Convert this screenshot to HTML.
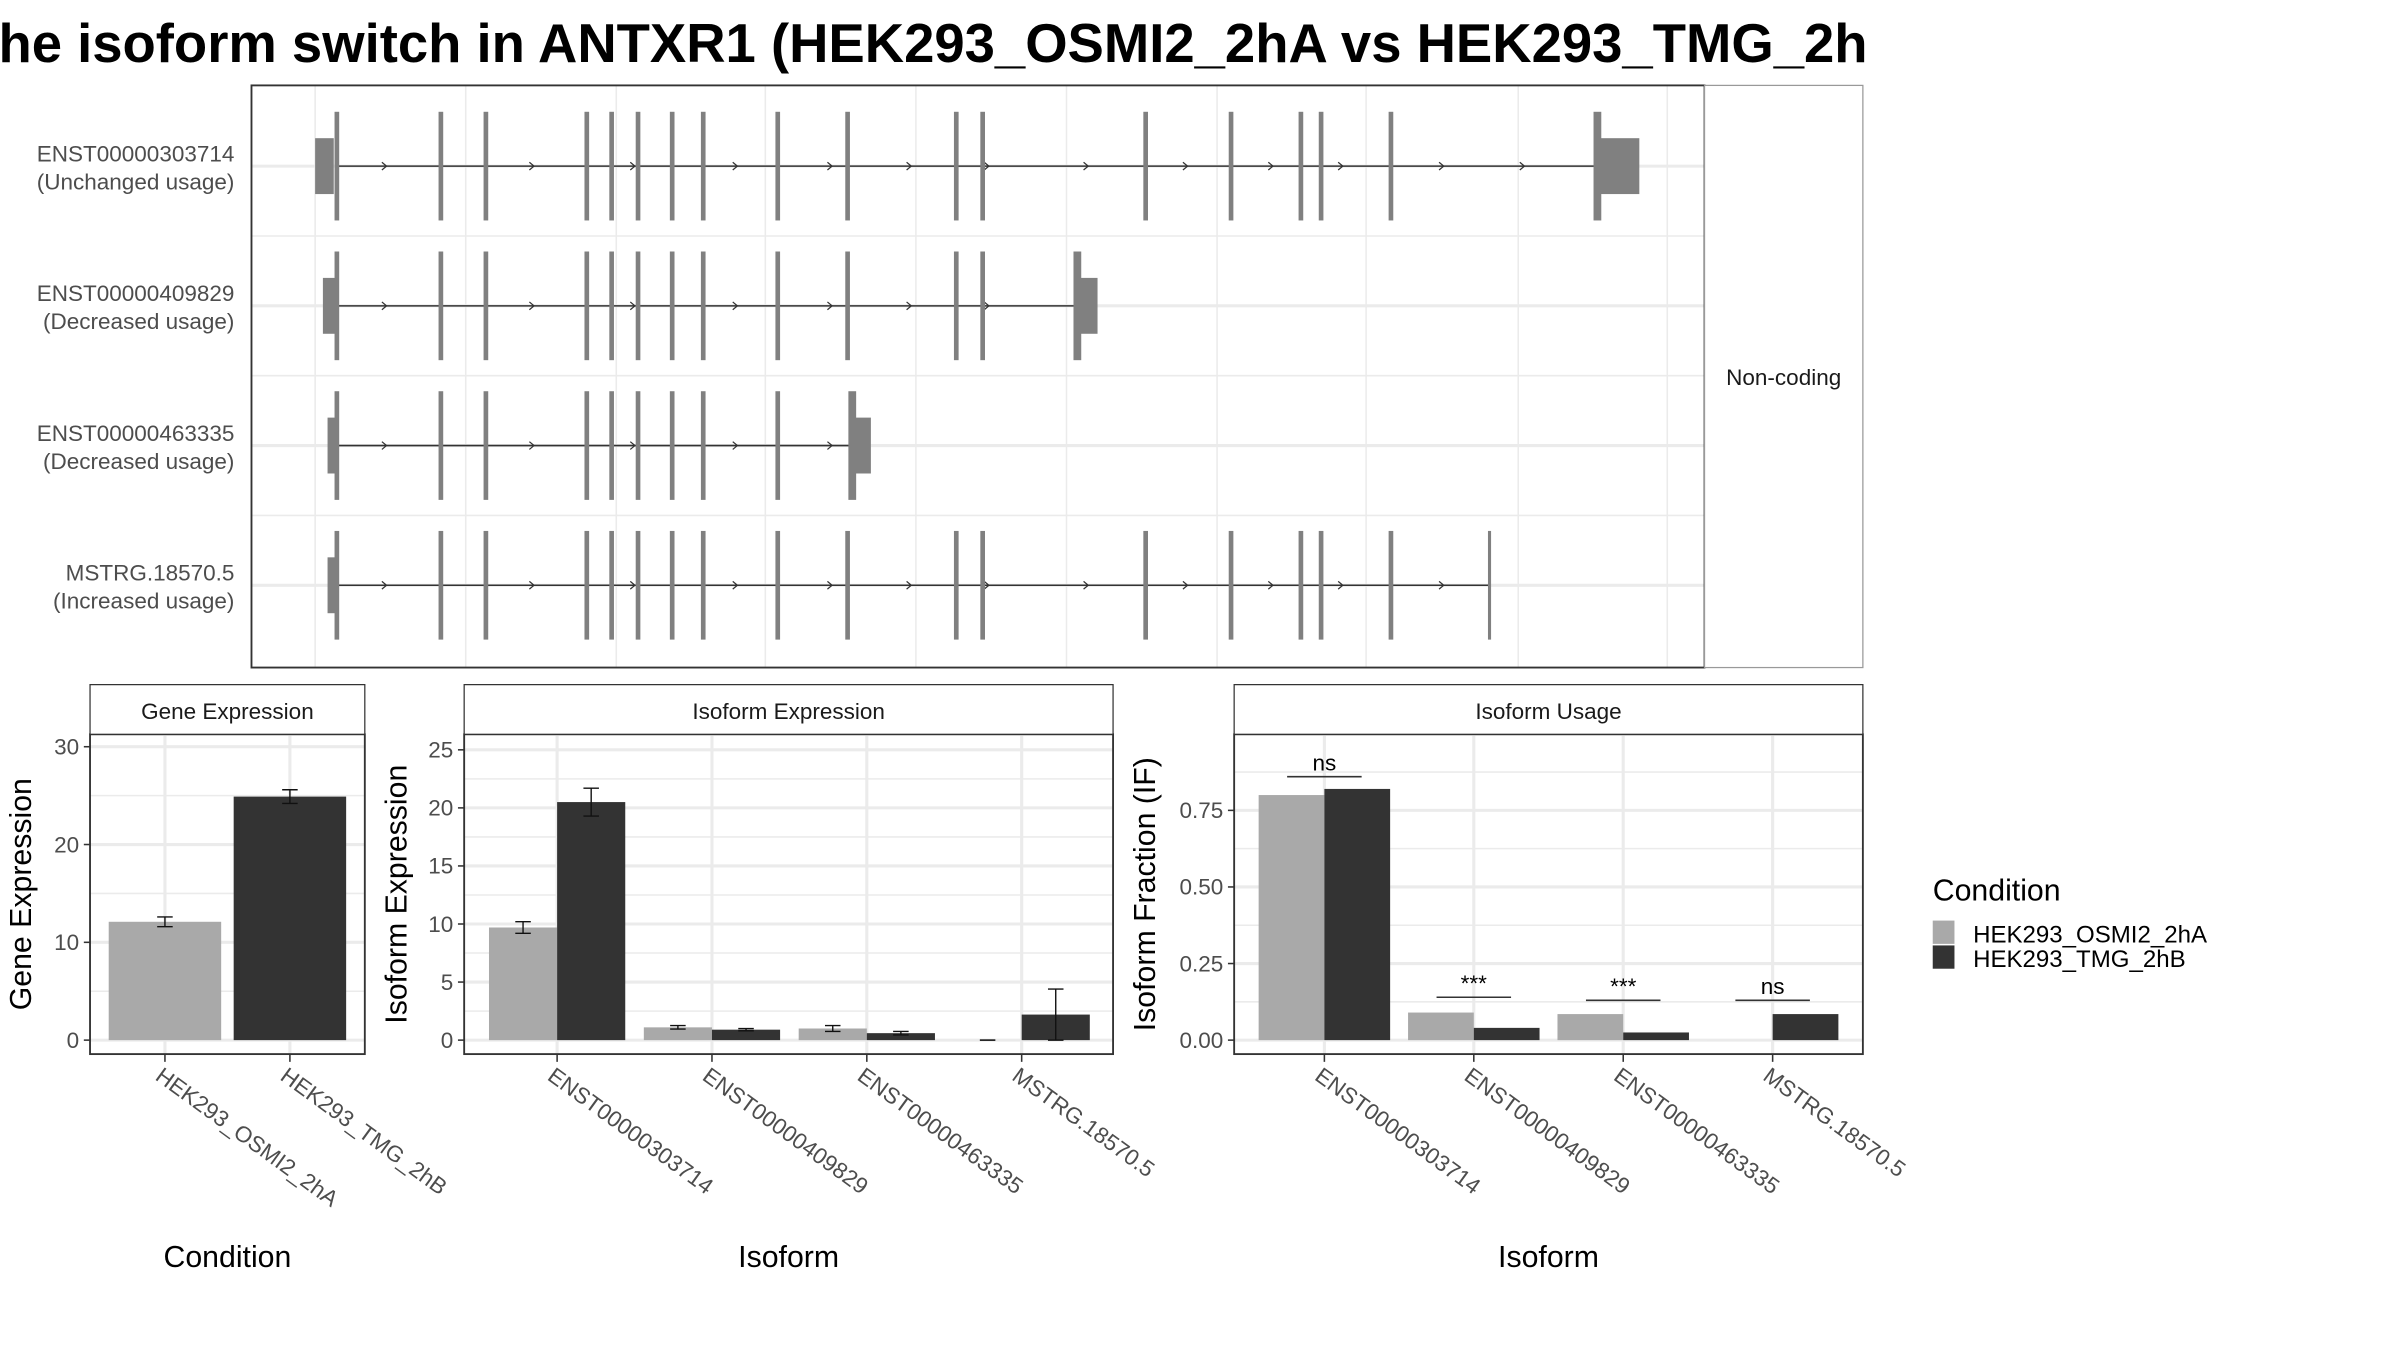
<!DOCTYPE html>
<html><head><meta charset="utf-8"><style>
html,body{margin:0;padding:0;background:#fff;}
svg{display:block;font-family:"Liberation Sans",sans-serif;}
</style></head><body>
<svg id="chart" width="2400" height="1350" viewBox="0 0 1546 869.6" xmlns="http://www.w3.org/2000/svg">
<text x="-1" y="40" font-size="35" font-weight="bold" fill="#000" textLength="1204" lengthAdjust="spacingAndGlyphs">he isoform switch in ANTXR1 (HEK293_OSMI2_2hA vs HEK293_TMG_2h</text>
<g id="topG"></g>
<g id="bottomG"></g>
<g>
<text x="1245" y="580" font-size="19.5" fill="#000">Condition</text>
<rect x="1245" y="593" width="14" height="15" fill="#a9a9a9"/>
<rect x="1245" y="609" width="14" height="15" fill="#333333"/>
<text x="1271" y="607" font-size="15.5" fill="#000">HEK293_OSMI2_2hA</text>
<text x="1271" y="623" font-size="15.5" fill="#000">HEK293_TMG_2hB</text>
</g>
</svg>
<script>
const NS="http://www.w3.org/2000/svg";
function mk(parent,tag,attrs,text){const e=document.createElementNS(NS,tag);for(const k in attrs)e.setAttribute(k,attrs[k]);if(text!==undefined)e.textContent=text;parent.appendChild(e);return e;}

// ---------- transcript structure data (displayed coordinate units) ----------
const txNames=["ENST00000303714","ENST00000409829","ENST00000463335","MSTRG.18570.5"];
const txUsage=["(Unchanged usage)","(Decreased usage)","(Decreased usage)","(Increased usage)"];
const sharedExons=[217,284,313,378,394,411,433,453,501,546,616,633,738,793,838,851,896];
const txExonCount=[17,12,9,17];
const txLastExon=[1028,693,548,960];
const txStartUTR=[[203,215],[208,216],[211,216],[211,216]];
const txEndUTR=[[1031,1056],[695,707],[551,561],[0,0]];
const arrowPos=[249,344,409,475,536,587,637,701,765,820,865,930,982];

const topG=document.getElementById('topG');
const px0=162,px1=1098,py0=55,py1=430;
const vgrid=[203,300,397,493,590,687,784,880,978,1074];
const rowY=[107,197,287,377];
vgrid.forEach(x=>{const l=mk(topG,'line',{x1:x,x2:x,y1:py0,y2:py1,stroke:'#ebebeb','stroke-width':1});

});
[152,242,332].forEach(y=>{const l=mk(topG,'line',{x1:px0,x2:px1,y1:y,y2:y,stroke:'#ebebeb','stroke-width':1});

});
rowY.forEach(y=>{const l=mk(topG,'line',{x1:px0,x2:px1,y1:y,y2:y,stroke:'#ebebeb','stroke-width':2});

});
txNames.forEach((n,i)=>{
  const cy=rowY[i];
  const g=mk(topG,'g',{});
  
  
  const end=txLastExon[i];
  const intr=mk(g,'line',{x1:217,x2:end,y1:cy,y2:cy,stroke:'#333','stroke-width':1});
  
  
  arrowPos.filter(a=>a<end-5).forEach(a=>{const p=mk(g,'path',{d:`M${a-3},${cy-2.5}L${a},${cy}L${a-3},${cy+2.5}`,fill:'none',stroke:'#333','stroke-width':0.8});
  
  });
  const su=txStartUTR[i];
  const r=mk(g,'rect',{x:su[0],y:cy-18,width:su[1]-su[0],height:36,fill:'#808080'});
  
  
  sharedExons.slice(0,txExonCount[i]).forEach(x=>{const e=mk(g,'rect',{x:x-1.5,y:cy-35,width:3,height:70,fill:'#808080'});
  
  });
  const le=mk(g,'rect',{x:end-1.5,y:cy-35,width:i==3?2:5,height:70,fill:'#808080'});
  
  
  const eu=txEndUTR[i];
  if(eu[1]>eu[0]){const u=mk(g,'rect',{x:eu[0],y:cy-18,width:eu[1]-eu[0],height:36,fill:'#808080'});
  
  }
  const t1=mk(topG,'text',{x:151,y:cy-3,'font-size':14.5,fill:'#4d4d4d','text-anchor':'end'},n);
  
  
  const t2=mk(topG,'text',{x:151,y:cy+15,'font-size':14.5,fill:'#4d4d4d','text-anchor':'end'},txUsage[i]);
  
  
});
const pb=mk(topG,'rect',{x:px0,y:py0,width:px1-px0,height:py1-py0,fill:'none',stroke:'#333','stroke-width':1.2});


const sb=mk(topG,'rect',{x:px1,y:py0,width:102,height:py1-py0,fill:'#fff',stroke:'#999','stroke-width':0.8});


const st=mk(topG,'text',{x:1149,y:248,'font-size':14.5,fill:'#1a1a1a','text-anchor':'middle'},'Non-coding');



// ---------- bar chart data ----------
const geneCats=["HEK293_OSMI2_2hA","HEK293_TMG_2hB"];
const geneVals=[12.1,24.9];
const geneErr=[0.5,0.7];
const geneTicks=[0,10,20,30];

const isoCats=["ENST00000303714","ENST00000409829","ENST00000463335","MSTRG.18570.5"];
const isoExpA=[9.7,1.1,1.0,0];
const isoExpB=[20.5,0.9,0.6,2.2];
const isoErrA=[0.5,0.15,0.25,0];
const isoErrB=[1.2,0.1,0.15,2.2];
const isoExpTicks=[0,5,10,15,20,25];

const usageA=[0.80,0.09,0.085,0];
const usageB=[0.82,0.04,0.025,0.085];
const usageTicks=[0,0.25,0.50,0.75];
const usageTickLabels=["0.00","0.25","0.50","0.75"];
const sigLabels=["ns","***","***","ns"];
const sigHeights=[0.86,0.14,0.13,0.13];

const bottomG=document.getElementById('bottomG');
const COLA='#a9a9a9',COLB='#333333';
function panel(o){
  const g=mk(bottomG,'g',{});
  
  
  const y=v=>o.y0-(v-o.vmin)*(o.y0-o.y1)/(o.vmax-o.vmin);
  const n=o.cats.length, step=(o.x1-o.x0)/n;
  const cx=i=>o.x0+step*(i+0.5);
  for(let k=0;k<o.ticks.length-1;k++){const v=(o.ticks[k]+o.ticks[k+1])/2;
    const l=mk(g,'line',{x1:o.left,x2:o.right,y1:y(v),y2:y(v),stroke:'#ebebeb','stroke-width':1});
    
    }
  if(o.extraMinor){const v=o.ticks[o.ticks.length-1]+(o.ticks[1]-o.ticks[0])/2;if(y(v)>474){const l=mk(g,'line',{x1:o.left,x2:o.right,y1:y(v),y2:y(v),stroke:'#ebebeb','stroke-width':1});
    
    }}
  o.ticks.forEach((v,k)=>{
    const l=mk(g,'line',{x1:o.left,x2:o.right,y1:y(v),y2:y(v),stroke:'#ebebeb','stroke-width':2});
    
    
    const t=mk(g,'line',{x1:o.left-4,x2:o.left,y1:y(v),y2:y(v),stroke:'#333','stroke-width':1});
    
    
    const tl=mk(g,'text',{x:o.left-7,y:y(v)+5,'font-size':14.5,fill:'#4d4d4d','text-anchor':'end'},o.tickLabels?o.tickLabels[k]:String(v));
    
    
  });
  o.cats.forEach((c,i)=>{
    const l=mk(g,'line',{x1:cx(i),x2:cx(i),y1:474,y2:679,stroke:'#ebebeb','stroke-width':2});
    
    
  });
  o.cats.forEach((c,i)=>{
    o.series.forEach((s,j)=>{
      let bx,bw;
      if(o.single){bw=step*0.9;bx=cx(i)-bw/2;}else{bw=step*0.44;bx=j==0?cx(i)-bw:cx(i);}
      const v=s.vals[i];
      const r=mk(g,'rect',{x:bx,y:y(v),width:bw,height:Math.max(y(0)-y(v),0.01),fill:o.single?(i==0?COLA:COLB):s.col});
      
      
      if(v===0 && !o.single && o.zeroDash){const d=mk(g,'line',{x1:bx+bw/2-5,x2:bx+bw/2+5,y1:y(0),y2:y(0),stroke:'#111','stroke-width':1});
        
        }
      if(s.err){const e=s.err[i];if(e>0){const mx=bx+bw/2;
        const eg=mk(g,'path',{d:`M${mx-5},${y(v+e)}H${mx+5}M${mx},${y(v+e)}V${y(v-e)}M${mx-5},${y(v-e)}H${mx+5}`,stroke:'#111','stroke-width':0.9,fill:'none'});
        
        }}
    });
    const t=mk(g,'line',{x1:cx(i),x2:cx(i),y1:679,y2:684,stroke:'#333','stroke-width':1});
    
    
    const tl=mk(g,'text',{x:0,y:0,'font-size':14.5,fill:'#4d4d4d',transform:`translate(${cx(i)-7},${695}) rotate(36)`},c);
    
    
  });
  if(o.sig){o.sig.forEach((s,i)=>{
    const ly=y(sigHeights[i]);
    const l=mk(g,'line',{x1:cx(i)-24,x2:cx(i)+24,y1:ly,y2:ly,stroke:'#333','stroke-width':1});
    
    
    const t=mk(g,'text',{x:cx(i),y:ly-4,'font-size':14.5,fill:'#000','text-anchor':'middle'},s);
    
    
  });}
  const b=mk(g,'rect',{x:o.left,y:473,width:o.right-o.left,height:206,fill:'none',stroke:'#333','stroke-width':1.2});
  
  
  const sr=mk(g,'rect',{x:o.left,y:441,width:o.right-o.left,height:32,fill:'#fff',stroke:'#333','stroke-width':0.8});
  
  
  const stx=mk(g,'text',{x:(o.left+o.right)/2,y:463,'font-size':14.5,fill:'#1a1a1a','text-anchor':'middle'},o.title);
  
  
  const yt=mk(g,'text',{x:0,y:0,'font-size':19.5,fill:'#000','text-anchor':'middle',transform:`translate(${o.ytx},${576}) rotate(-90)`},o.ytitle);
  
  
  const xt=mk(g,'text',{x:(o.left+o.right)/2,y:816,'font-size':19.5,fill:'#000','text-anchor':'middle'},o.xtitle);
  
  
}
panel({name:'gene-expression-panel',title:'Gene Expression',ytitle:'Gene Expression',xtitle:'Condition',ytx:20,
  left:58,right:235,x0:66,x1:227,y0:670,y1:481,vmin:0,vmax:30,ticks:geneTicks,cats:geneCats,single:true,
  series:[{key:'value',vals:geneVals,err:geneErr,col:COLA}]});
panel({name:'isoform-expression-panel',title:'Isoform Expression',ytitle:'Isoform Expression',xtitle:'Isoform',ytx:262,
  left:299,right:717,x0:309,x1:708,y0:670,y1:483,vmin:0,vmax:25,ticks:isoExpTicks,cats:isoCats,zeroDash:true,
  series:[{key:'osmi2',vals:isoExpA,err:isoErrA,col:COLA},{key:'tmg',vals:isoExpB,err:isoErrB,col:COLB}]});
panel({name:'isoform-usage-panel',title:'Isoform Usage',ytitle:'Isoform Fraction (IF)',xtitle:'Isoform',ytx:744,
  left:795,right:1200,x0:805,x1:1190,y0:670,y1:522,vmin:0,vmax:0.75,ticks:usageTicks,tickLabels:usageTickLabels,cats:isoCats,extraMinor:true,
  series:[{key:'osmi2',vals:usageA,col:COLA},{key:'tmg',vals:usageB,col:COLB}],sig:sigLabels});
</script>
</body></html>
